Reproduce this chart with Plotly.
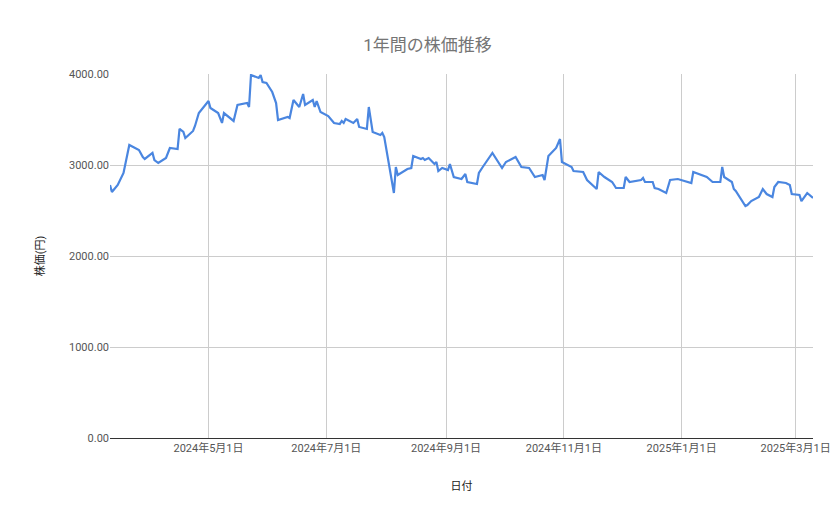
import plotly.graph_objects as go

# 日付と終値 (チャートから読み取り)
dates = [
    "2024-03-11", "2024-03-12", "2024-03-15", "2024-03-18", "2024-03-21", "2024-03-26",
    "2024-03-28", "2024-03-29", "2024-04-02", "2024-04-03", "2024-04-05", "2024-04-09",
    "2024-04-11", "2024-04-15", "2024-04-16", "2024-04-18", "2024-04-19", "2024-04-23",
    "2024-04-24", "2024-04-26", "2024-05-01", "2024-05-02", "2024-05-06", "2024-05-08",
    "2024-05-09", "2024-05-14", "2024-05-16", "2024-05-21", "2024-05-22", "2024-05-23",
    "2024-05-27", "2024-05-28", "2024-05-29", "2024-05-31", "2024-06-03", "2024-06-05",
    "2024-06-06", "2024-06-11", "2024-06-12", "2024-06-14", "2024-06-17", "2024-06-19",
    "2024-06-20", "2024-06-24", "2024-06-25", "2024-06-26", "2024-06-28", "2024-07-02",
    "2024-07-05", "2024-07-08", "2024-07-09", "2024-07-10", "2024-07-11", "2024-07-15",
    "2024-07-17", "2024-07-18", "2024-07-22", "2024-07-23", "2024-07-25", "2024-07-29",
    "2024-07-30", "2024-07-31", "2024-08-05", "2024-08-06", "2024-08-07", "2024-08-12",
    "2024-08-14", "2024-08-15", "2024-08-19", "2024-08-20", "2024-08-21", "2024-08-23",
    "2024-08-26", "2024-08-27", "2024-08-28", "2024-08-30", "2024-09-02", "2024-09-03",
    "2024-09-05", "2024-09-09", "2024-09-11", "2024-09-12", "2024-09-17", "2024-09-18",
    "2024-09-20", "2024-09-25", "2024-09-30", "2024-10-02", "2024-10-07", "2024-10-10",
    "2024-10-14", "2024-10-17", "2024-10-21", "2024-10-22", "2024-10-24", "2024-10-28",
    "2024-10-30", "2024-10-31", "2024-11-05", "2024-11-06", "2024-11-11", "2024-11-13",
    "2024-11-18", "2024-11-19", "2024-11-22", "2024-11-26", "2024-11-28", "2024-12-02",
    "2024-12-03", "2024-12-05", "2024-12-11", "2024-12-12", "2024-12-13", "2024-12-17",
    "2024-12-18", "2024-12-20", "2024-12-24", "2024-12-26", "2024-12-30", "2025-01-06",
    "2025-01-07", "2025-01-14", "2025-01-17", "2025-01-21", "2025-01-22", "2025-01-23",
    "2025-01-27", "2025-01-28", "2025-01-29", "2025-02-03", "2025-02-04", "2025-02-06",
    "2025-02-10", "2025-02-12", "2025-02-14", "2025-02-17", "2025-02-18", "2025-02-20",
    "2025-02-24", "2025-02-26", "2025-02-27", "2025-03-03", "2025-03-04", "2025-03-06",
    "2025-03-07", "2025-03-10",
]
prices = [
    2780, 2703, 2780, 2912, 3220, 3165,
    3088, 3066, 3132, 3055, 3022, 3077,
    3187, 3176, 3396, 3363, 3297, 3374,
    3429, 3571, 3703, 3626, 3571, 3462,
    3571, 3484, 3659, 3681, 3637, 3989,
    3956, 3989, 3912, 3901, 3802, 3681,
    3495, 3527, 3516, 3714, 3637, 3780,
    3659, 3714, 3637, 3703, 3582, 3538,
    3462, 3451, 3484, 3462, 3505, 3462,
    3505, 3418, 3396, 3637, 3363, 3330,
    3352, 3308, 2692, 2978, 2890, 2956,
    2967, 3099, 3066, 3077, 3055, 3077,
    3011, 3033, 2934, 2967, 2945, 3011,
    2868, 2846, 2901, 2813, 2791, 2912,
    2978, 3132, 2967, 3033, 3088, 2978,
    2967, 2868, 2890, 2835, 3099, 3187,
    3286, 3033, 2978, 2934, 2923, 2835,
    2736, 2923, 2868, 2813, 2747, 2747,
    2868, 2813, 2835, 2857, 2813, 2813,
    2747, 2736, 2692, 2835, 2846, 2802,
    2923, 2868, 2813, 2813, 2978, 2868,
    2813, 2736, 2714, 2549, 2560, 2604,
    2648, 2736, 2681, 2648, 2758, 2813,
    2802, 2780, 2681, 2670, 2604, 2670,
    2692, 2637,
]

tick_vals = ["2024-05-01", "2024-07-01", "2024-09-01", "2024-11-01", "2025-01-01", "2025-03-01"]
tick_text = ["2024年5月1日", "2024年7月1日", "2024年9月1日", "2024年11月1日", "2025年1月1日", "2025年3月1日"]

fig = go.Figure()
fig.add_trace(go.Scatter(x=dates, y=prices, mode="lines",
                         line=dict(color="#4a86e0", width=2.2)))

fig.update_layout(
    width=839, height=519,
    paper_bgcolor="white", plot_bgcolor="white",
    font=dict(family="Roboto, Noto Sans CJK JP", color="#555555", size=11),
    title=dict(text="1年間の株価推移", x=0.5, xanchor="center", y=0.94,
               font=dict(size=17, color="#757575", family="Roboto, Noto Sans CJK JP")),
    margin=dict(l=102, r=34, t=66, b=89),
    showlegend=False,
)
fig.update_xaxes(
    range=["2024-03-11", "2025-03-10"],
    tickvals=tick_vals, ticktext=tick_text,
    showgrid=True, gridcolor="#cccccc", gridwidth=1,
    showline=True, linecolor="#333333", linewidth=1,
    ticks="", tickfont=dict(size=11, color="#555555"),
    title=dict(text="日付", font=dict(size=11, color="#222222"), standoff=28),
)
fig.update_yaxes(
    range=[0, 4000], tickvals=[0, 1000, 2000, 3000, 4000], tickformat=".2f",
    showgrid=True, gridcolor="#cccccc", gridwidth=1, zeroline=False,
    ticks="", tickfont=dict(size=11, color="#555555"),
    title=dict(text="株価(円)", font=dict(size=11, color="#222222"), standoff=22),
)

fig.write_html("out.html")
